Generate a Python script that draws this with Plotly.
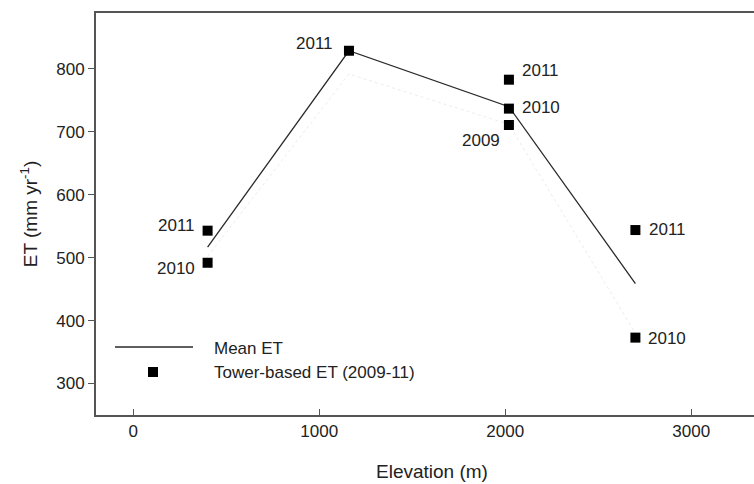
import plotly.graph_objects as go

# Tower-based ET points
elev = [400, 400, 1160, 2020, 2020, 2020, 2700, 2700]
et = [543, 492, 829, 783, 737, 711, 544, 373]
years = ["2011", "2010", "2011", "2011", "2010", "2009", "2011", "2010"]

# Mean ET line
site_elev = [400, 1160, 2020, 2700]
mean_et = [517, 829, 740, 459]
# faint secondary (light dotted) line visible in the figure
faint_et = [502, 792, 712, 380]

x_ticks = [0, 1000, 2000, 3000]
y_ticks = [300, 400, 500, 600, 700, 800]

# label placement styles (anchor, x shift, y shift) per point
label_style = [
    ("right", -11, 5), ("right", -11, -6), ("right", -14, 7), ("left", 11, 9),
    ("left", 11, 1), ("right", -7, -16), ("left", 12, 1), ("left", 11, -1),
]

FONT = "Liberation Sans, Arial, sans-serif"
TXT = "#222222"
AX = "#555555"

# the original chart is cropped on its right side by the window
W, H = 780, 484
L, T, R = 96, 13, 0
B = H - 415
pw, ph = W - L - R, H - T - B
PX_PER_UNIT = 558 / 3000.0
x_range = [-200, -200 + pw / PX_PER_UNIT]


def px2paper(px, py):
    return (px - L) / pw, (H - B - py) / ph


fig = go.Figure()
fig.add_trace(go.Scatter(x=site_elev, y=faint_et, mode="lines",
                         line=dict(color="#ececec", width=1, dash="dot"),
                         showlegend=False, hoverinfo="skip"))
fig.add_trace(go.Scatter(x=site_elev, y=mean_et, mode="lines",
                         line=dict(color="#2a2a2a", width=1.3),
                         showlegend=False))
fig.add_trace(go.Scatter(x=elev, y=et, mode="markers",
                         marker=dict(symbol="square", size=10, color="black"),
                         showlegend=False))

annotations = []
for xi, yi, t, (anc, dx, dy) in zip(elev, et, years, label_style):
    annotations.append(dict(x=xi, y=yi, xref="x", yref="y", text=t, showarrow=False,
                            xanchor=anc, yanchor="middle", xshift=dx, yshift=dy,
                            font=dict(family=FONT, size=17, color=TXT)))

# manual legend
lx0, ly0 = px2paper(115, 347)
lx1, _ = px2paper(193, 347)
mx, my = px2paper(153, 372)
tx, ty1 = px2paper(212, 348)
_, ty2 = px2paper(212, 372)
shapes = [
    dict(type="line", xref="paper", yref="paper", x0=lx0, x1=lx1, y0=ly0, y1=ly0,
         line=dict(color="#2a2a2a", width=1.3)),
    dict(type="rect", xref="paper", yref="paper",
         x0=mx - 5 / pw, x1=mx + 5 / pw, y0=my - 5 / ph, y1=my + 5 / ph,
         fillcolor="black", line=dict(width=0)),
]
annotations += [
    dict(x=tx, y=ty1, xref="paper", yref="paper", text="Mean ET", showarrow=False,
         xanchor="left", yanchor="middle", font=dict(family=FONT, size=17, color=TXT)),
    dict(x=tx, y=ty2, xref="paper", yref="paper", text="Tower-based ET (2009-11)",
         showarrow=False, xanchor="left", yanchor="middle",
         font=dict(family=FONT, size=17, color=TXT)),
]
# x axis title
ex, ey = px2paper(432, 471)
annotations.append(dict(x=ex, y=ey, xref="paper", yref="paper", text="Elevation (m)",
                        showarrow=False, xanchor="center", yanchor="middle",
                        font=dict(family=FONT, size=19, color=TXT)))

fig.update_layout(
    width=W, height=H,
    margin=dict(l=L, r=R, t=T, b=B, pad=0),
    paper_bgcolor="white", plot_bgcolor="white",
    font=dict(family=FONT, size=17, color=TXT),
    shapes=shapes, annotations=annotations,
    xaxis=dict(range=x_range, tickvals=x_ticks, ticks="inside", ticklen=6,
               tickwidth=1.2, tickcolor=AX, showline=True, linecolor=AX, linewidth=1.8,
               mirror=True, showgrid=False, zeroline=False, automargin=False,
               tickfont=dict(family=FONT, size=17, color=TXT)),
    yaxis=dict(range=[250, 889], tickvals=y_ticks, ticks="outside", ticklen=6,
               tickwidth=1.2, tickcolor=AX, showline=True, linecolor=AX, linewidth=1.8,
               mirror=False, showgrid=False, zeroline=False, automargin=False,
               tickfont=dict(family=FONT, size=17, color=TXT),
               title=dict(text="ET (mm yr<sup>-1</sup>)", standoff=14,
                          font=dict(family=FONT, size=19, color=TXT))),
)

fig.write_html(
    "out.html",
    config={"displayModeBar": False},
    post_script=("document.documentElement.style.margin='0';"
                 "document.body.style.margin='0';"
                 "document.body.style.overflow='hidden';"
                 "document.documentElement.style.overflow='hidden';"),
)
